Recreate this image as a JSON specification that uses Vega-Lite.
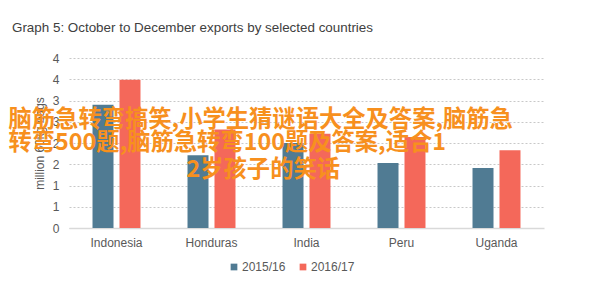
{
  "$schema": "https://vega.github.io/schema/vega-lite/v6.json",
  "autosize": "none",
  "width": 475,
  "height": 170,
  "padding": {"left": 69, "top": 58, "right": 54, "bottom": 55},
  "background": "white",
  "title": {
    "text": "Graph 5: October to December exports by selected countries",
    "anchor": "start",
    "frame": "group",
    "dx": -57,
    "offset": 18,
    "font": "Liberation Sans",
    "fontSize": 13.4,
    "fontWeight": "normal",
    "color": "#404040"
  },
  "datasets": {
    "exports": [
      {"country": "Indonesia", "year": "2015/16", "value": 2.9},
      {"country": "Indonesia", "year": "2016/17", "value": 3.49},
      {"country": "Honduras", "year": "2015/16", "value": 1.71},
      {"country": "Honduras", "year": "2016/17", "value": 2.32},
      {"country": "India", "year": "2015/16", "value": 2.0},
      {"country": "India", "year": "2016/17", "value": 2.22},
      {"country": "Peru", "year": "2015/16", "value": 1.53},
      {"country": "Peru", "year": "2016/17", "value": 2.14},
      {"country": "Uganda", "year": "2015/16", "value": 1.41},
      {"country": "Uganda", "year": "2016/17", "value": 1.83}
    ],
    "overlay": [
      {"line1": "脑筋急转弯搞笑,小学生猜谜语大全及答案,脑筋急", "line2": "转弯500题,脑筋急转弯100题及答案,适合1", "line3": "2岁孩子的笑话"}
    ]
  },
  "config": {
    "view": {"stroke": null},
    "font": "Liberation Sans"
  },
  "layer": [
    {
      "data": {"name": "exports"},
      "mark": {"type": "bar"},
      "encoding": {
        "x": {
          "field": "country",
          "type": "nominal",
          "sort": ["Indonesia", "Honduras", "India", "Peru", "Uganda"],
          "scale": {"paddingInner": 0.495, "paddingOuter": 0.2475},
          "axis": {
            "title": null,
            "labelAngle": 0,
            "ticks": false,
            "labelPadding": 9,
            "labelFontSize": 12,
            "labelColor": "#595959",
            "domainColor": "#d9d9d9",
            "domainWidth": 1.5
          }
        },
        "xOffset": {
          "field": "year",
          "type": "nominal",
          "scale": {"paddingInner": 0.222}
        },
        "y": {
          "field": "value",
          "type": "quantitative",
          "scale": {"domain": [0, 4], "nice": false},
          "axis": {
            "title": "million 60kg bags",
            "titleFontSize": 12,
            "titleFontWeight": "normal",
            "titleColor": "#595959",
            "titlePadding": 6,
            "values": [0, 0.5, 1, 1.5, 2, 2.5, 3, 3.5, 4],
            "tickCount": 12,
            "format": ".0f",
            "labelOverlap": false,
            "labelFontSize": 12,
            "labelColor": "#595959",
            "labelPadding": 10,
            "ticks": false,
            "domain": false,
            "grid": true,
            "gridColor": "#c8c8c8",
            "gridDash": [2, 2],
            "gridWidth": 1
          }
        },
        "color": {
          "field": "year",
          "type": "nominal",
          "scale": {"domain": ["2015/16", "2016/17"], "range": ["#507B93", "#F4685A"]},
          "legend": {
            "title": null,
            "orient": "none",
            "legendX": 159,
            "legendY": 203,
            "direction": "horizontal",
            "symbolType": "square",
            "symbolSize": 45,
            "labelFontSize": 12,
            "labelColor": "#595959",
            "labelOffset": 2,
            "columnPadding": 11
          }
        }
      }
    },
    {
      "data": {"name": "overlay"},
      "mark": {
        "type": "text",
        "align": "left",
        "baseline": "middle",
        "font": "Noto Sans CJK SC",
        "fontWeight": "bold",
        "fontSize": 23.3,
        "color": "#F7901E",
        "dx": -84
      },
      "encoding": {
        "x": {"datum": "Indonesia", "bandPosition": 0},
        "y": {"datum": 2.53},
        "text": {"field": "line1"}
      }
    },
    {
      "data": {"name": "overlay"},
      "mark": {
        "type": "text",
        "align": "left",
        "baseline": "middle",
        "font": "Noto Sans CJK SC",
        "fontWeight": "bold",
        "fontSize": 23.3,
        "color": "#F7901E",
        "dx": -84
      },
      "encoding": {
        "x": {"datum": "Indonesia", "bandPosition": 0},
        "y": {"datum": 1.99},
        "text": {"field": "line2"}
      }
    },
    {
      "data": {"name": "overlay"},
      "mark": {
        "type": "text",
        "align": "left",
        "baseline": "middle",
        "font": "Noto Sans CJK SC",
        "fontWeight": "bold",
        "fontSize": 23.3,
        "color": "#F7901E",
        "dx": -1
      },
      "encoding": {
        "x": {"datum": "Honduras", "bandPosition": 0},
        "y": {"datum": 1.36},
        "text": {"field": "line3"}
      }
    }
  ]
}
